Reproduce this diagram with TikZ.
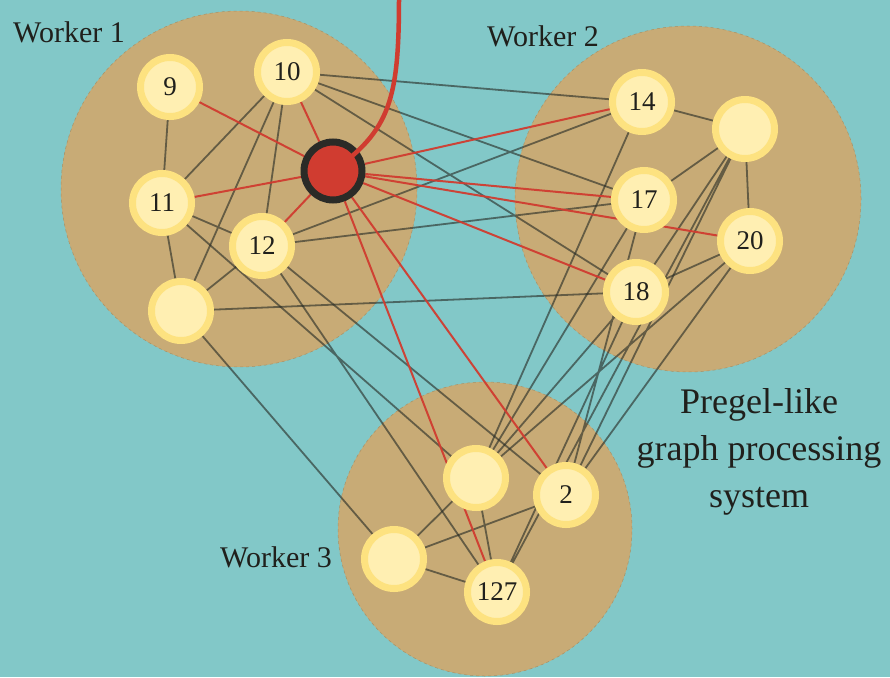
\documentclass[tikz,border=0pt]{standalone}
\usepackage{fontspec}
\setmainfont{Liberation Serif}
\usepackage{xcolor}
\usepackage{tikz}
\definecolor{seacolor}{RGB}{130,200,200}
\definecolor{sandcolor}{RGB}{200,171,118}
\definecolor{ringcolor}{RGB}{253,226,128}
\definecolor{corecolor}{RGB}{255,239,178}
\definecolor{msgred}{RGB}{208,60,48}
\definecolor{inkcolor}{RGB}{32,32,28}
\definecolor{wirecolor}{RGB}{40,44,38}
\pgfdeclarelayer{bg}
\pgfdeclarelayer{wires}
\pgfsetlayers{bg,wires,main}

\begin{document}
\begin{tikzpicture}[
    x=1pt, y=-1pt,
    worker/.style={circle, fill=sandcolor, draw=sandcolor!85!black, line width=0.5pt, dashed, inner sep=0pt},
    vertex/.style={circle, fill=corecolor, draw=ringcolor, line width=7pt, minimum size=59pt, inner sep=0pt, text=inkcolor, font=\fontsize{27}{30}\selectfont},
    source/.style={circle, fill=msgred, draw=inkcolor!95, line width=7pt, minimum size=58pt, inner sep=0pt},
    link/.style={draw=wirecolor, draw opacity=0.62, line width=1.8pt},
    hot/.style={draw=msgred, draw opacity=0.95, line width=2pt},
    wlabel/.style={text=inkcolor, font=\fontsize{30}{34}\selectfont, inner sep=0pt}
]
    \useasboundingbox (0,0) rectangle (890,677);

    % Workers
    \begin{pgfonlayer}{bg}
    \fill[seacolor] (0,0) rectangle (890,677);
    \node[worker, minimum size=356pt] (w1) at (239,189) {};
    \node[worker, minimum size=346pt] (w2) at (688,199) {};
    \node[worker, minimum size=294pt] (w3) at (485,529) {};
    \end{pgfonlayer}

    \node[wlabel, anchor=base west] (t1) at (13,42) {Worker 1};
    \node[wlabel, anchor=base west] (t2) at (487,46) {Worker 2};
    \node[wlabel, anchor=base west] (t3) at (220,567) {Worker 3};
    \node[text=inkcolor, font=\fontsize{36}{47}\selectfont, align=center, inner sep=0pt] (title) at (759,452) {Pregel-like\\graph processing\\system};

    % Vertices of worker 1
    \node[vertex] (n9) at (170,87) {9};
    \node[vertex] (n10) at (287,72) {10};
    \node[vertex] (n11) at (162,203) {11};
    \node[vertex] (n12) at (262,246) {12};
    \node[vertex] (n1b) at (181,311) {};
    \node[source] (src) at (333,171) {};

    % Vertices of worker 2
    \node[vertex] (n14) at (642,102) {14};
    \node[vertex] (n2b) at (745,129) {};
    \node[vertex] (n17) at (644,200) {17};
    \node[vertex] (n20) at (750,241) {20};
    \node[vertex] (n18) at (636,292) {18};

    % Vertices of worker 3
    \node[vertex] (n3a) at (476,478) {};
    \node[vertex] (n2) at (566,495) {2};
    \node[vertex] (n3b) at (394,559) {};
    \node[vertex] (n127) at (497,592) {127};

    \begin{pgfonlayer}{wires}
    % Edges inside the workers
    \draw[link] (n9) -- (n11) (n10) -- (n11) (n10) -- (n1b) (n10) -- (n12)
        (n11) -- (n12) (n11) -- (n1b) (n12) -- (n1b);
    \draw[link] (n14) -- (n2b) (n2b) -- (n17) (n2b) -- (n20) (n20) -- (n18) (n2b) -- (n18);
    \draw[link] (n3a) -- (n3b) (n3b) -- (n2) (n3a) -- (n127) (n3b) -- (n127);

    % Edges between workers
    \draw[link] (n10) -- (n14) (n10) -- (n17) (n10) -- (n18)
        (n12) -- (n14) (n12) -- (n17) (n1b) -- (n18);
    \draw[link] (n11) -- (n3a) (n12) -- (n2) (n12) -- (n127) (n1b) -- (n3b);
    \draw[link] (n14) -- (n3a) (n17) -- (n3a) (n18) -- (n3a) (n20) -- (n3a)
        (n17) -- (n2) (n18) -- (n127) (n20) -- (n2) (n2b) -- (n127) (n2b) -- (n2);

    % Messages from the active vertex
    \draw[hot] (src) -- (n9) (src) -- (n10) (src) -- (n11) (src) -- (n12);
    \draw[hot] (src) -- (n14) (src) -- (n17) (src) -- (n20) (src) -- (n18);
    \draw[hot] (src) -- (n127) (src) -- (n2);
    \end{pgfonlayer}

    % Incoming message
    \coordinate (feed) at (399,-3);
    \draw[msgred, line width=4.5pt] (feed) .. controls (399,100) and (390,130) .. (src.center);
\end{tikzpicture}
\end{document}
